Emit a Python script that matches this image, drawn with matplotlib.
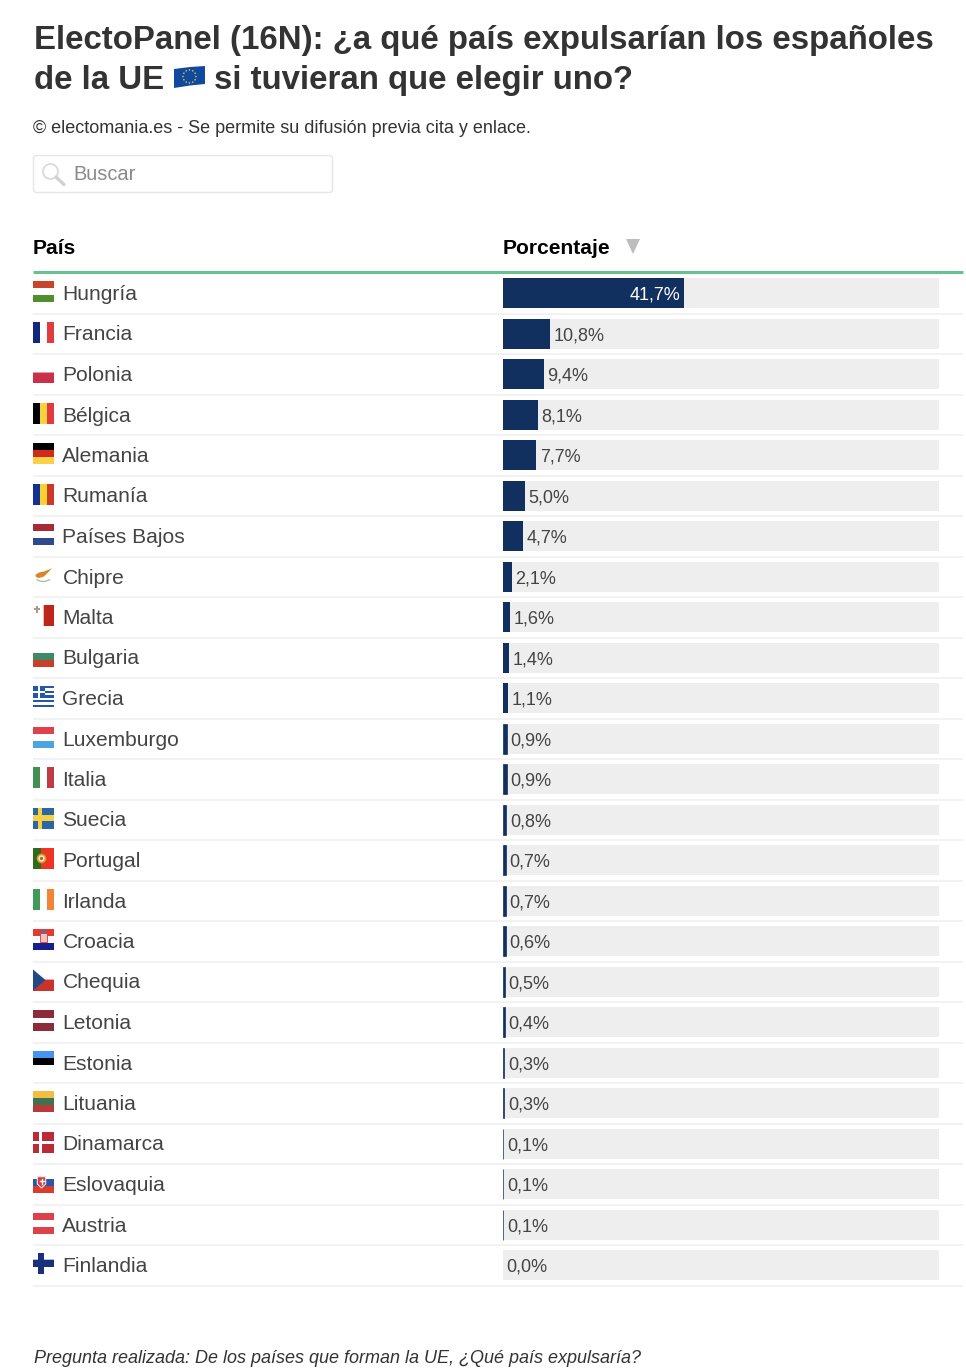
import matplotlib
matplotlib.use("Agg")
import matplotlib.pyplot as plt
from matplotlib.patches import Rectangle, FancyBboxPatch, Polygon, Circle
import numpy as np

W, H = 966, 1372
DPI = 100
plt.rcParams['font.family'] = ['Liberation Sans', 'DejaVu Sans']

paises = ["Hungría", "Francia", "Polonia", "Bélgica", "Alemania", "Rumanía", "Países Bajos",
          "Chipre", "Malta", "Bulgaria", "Grecia", "Luxemburgo", "Italia", "Suecia", "Portugal",
          "Irlanda", "Croacia", "Chequia", "Letonia", "Estonia", "Lituania", "Dinamarca",
          "Eslovaquia", "Austria", "Finlandia"]
valores = [41.7, 10.8, 9.4, 8.1, 7.7, 5.0, 4.7, 2.1, 1.6, 1.4, 1.1, 0.9, 0.9, 0.8, 0.7, 0.7,
           0.6, 0.5, 0.4, 0.3, 0.3, 0.1, 0.1, 0.1, 0.0]

titulo_1 = "ElectoPanel (16N): ¿a qué país expulsarían los españoles"
titulo_2a = "de la UE"
titulo_2b = "si tuvieran que elegir uno?"
subtitulo = "© electomania.es - Se permite su difusión previa cita y enlace."
buscar = "Buscar"
col_pais = "País"
col_pct = "Porcentaje"
pie = "Pregunta realizada: De los países que forman la UE, ¿Qué país expulsaría?"

NAVY, TRACK, INK = "#12305f", "#eeeeee", "#444444"
FIRST, STEP, BAR_H = 293.0, 40.5, 30.0
px = 0.72  # px -> pt at 100 dpi

# Flags: (x, y, w, h, colour) in unit flag coordinates, y downward; white left blank
def hs(*c):
    n = len(c)
    return [(0, i / n, 1, 1 / n, k) for i, k in enumerate(c) if k]
def vs(*c):
    n = len(c)
    return [(i / n, 0, 1 / n, 1, k) for i, k in enumerate(c) if k]

FLAGS = {
    "Hungría": hs("#c8452b", None, "#4f8f2e"),
    "Francia": vs("#10297c", None, "#e23a3f"),
    "Polonia": [(0, .5, 1, .5, "#cb3049"), (0, .47, 1, .05, "#e59aa6")],
    "Bélgica": vs("#000000", "#f8d33d", "#e23a3f"),
    "Alemania": hs("#000000", "#cf2b1b", "#f9d047"),
    "Rumanía": vs("#123098", "#f8d330", "#cc3a27"),
    "Países Bajos": hs("#a52b37", None, "#2d4a8c"),
    "Malta": [(.48, 0, .02, 1, "#eebbb5"), (.5, 0, .5, 1, "#bf261b"), (.03, .155, .3, .1, "#b09a85"), (.125, .06, .11, .3, "#b09a85")],
    "Bulgaria": hs(None, "#3f8a66", "#c8402a"),
    "Luxemburgo": hs("#e0424b", None, "#4ea4dd"),
    "Italia": vs("#418f53", None, "#c03a48"),
    "Suecia": [(0, 0, 1, 1, "#2a67a3"), (.22, 0, .22, 1, "#f7cf46"), (0, .38, 1, .24, "#f7cf46")],
    "Portugal": [(0, 0, .4, 1, "#2f6b1a"), (.4, 0, .6, 1, "#ee3524")],
    "Irlanda": vs("#429a58", None, "#f28436"),
    "Croacia": hs("#e8392e", None, "#1a1f8e"),
    "Letonia": [(0, 0, 1, .4, "#8c2c3a"), (0, .6, 1, .4, "#8c2c3a")],
    "Estonia": hs("#4793f2", "#000000", None),
    "Lituania": hs("#f3bd44", "#3f7250", "#b93a38"),
    "Dinamarca": [(0, 0, .29, .43, "#bb2a38"), (.43, 0, .57, .43, "#bb2a38"),
                  (0, .58, .29, .42, "#bb2a38"), (.43, .58, .57, .42, "#bb2a38")],
    "Eslovaquia": hs(None, "#2a56a6", "#dc3b32"),
    "Austria": hs("#dd424a", None, "#dd424a"),
    "Finlandia": [(0, .28, 1, .41, "#b4bfd8"), (.24, 0, .28, 1, "#19307a"), (0, .32, 1, .33, "#19307a")],
    "Grecia": [(0, i / 9, 1, 1 / 9, "#2458a8") for i in range(0, 9, 2)] +
              [(0, 0, .55, 5 / 9, "#2458a8"), (.22, 0, .11, 5 / 9, "#ffffff"), (0, 2 / 9, .55, 1 / 9, "#ffffff")],
}

fig = plt.figure(figsize=(W / DPI, H / DPI), dpi=DPI, facecolor="white")

# Page layer in pixel coordinates
pg = fig.add_axes([0, 0, 1, 1])
pg.set_xlim(0, W)
pg.set_ylim(H, 0)
pg.axis("off")

TITLE = dict(fontsize=33 * px, fontweight="bold", color="#333333", va="center_baseline")
pg.text(33.8, 37, titulo_1, **TITLE)
pg.text(33.8, 77.4, titulo_2a, **TITLE)
pg.text(214.5, 77.4, titulo_2b, **TITLE)
# EU flag emoji
pg.add_patch(Polygon([(174, 69), (190, 67), (205, 66), (205, 84), (190, 85.5), (174, 88)], fc="#0f4a9e", ec="none"))
for a in np.arange(0, 360, 30):
    pg.add_patch(Circle((189.5 + 6.5 * np.cos(np.radians(a)), 76.5 + 6.5 * np.sin(np.radians(a))), .8, fc="#e2c23a", ec="none"))

pg.text(33, 126.4, subtitulo, fontsize=18 * px, color="#333333", va="center_baseline")

pg.add_patch(FancyBboxPatch((33.5, 155.5), 299, 37, boxstyle="round,pad=0,rounding_size=3",
                            fc="white", ec="#e6e6e6", lw=1))
pg.add_patch(Circle((50.5, 171.5), 7.5, fc="none", ec="#dcdcdc", lw=1.4))
pg.plot([56, 64], [177, 184.5], color="#d2d2d2", lw=2.4, solid_capstyle="round")
pg.text(73.5, 173, buscar, fontsize=20 * px, color="#8a8a8a", va="center_baseline")

pg.text(33, 247, col_pais, fontsize=21 * px, fontweight="bold", color="#000000", va="center_baseline")
pg.text(503, 247, col_pct, fontsize=21 * px, fontweight="bold", color="#000000", va="center_baseline")
pg.add_patch(Polygon([(626, 239), (640, 239), (633, 254)], fc="#bdbdbd", ec="none"))
pg.plot([33, 963], [272, 272], color="#66c28f", lw=3 * px, solid_capstyle="butt")

for i, nombre in enumerate(paises):
    c = FIRST + i * STEP
    pg.text(62.4, c - .5, nombre, fontsize=21 * px, color=INK, va="center_baseline")
    pg.plot([33, 963], [c + 20.5, c + 20.5], color="#eeeeee", lw=1.5 * px, solid_capstyle="butt")
    fx, fy, fs = 33, c - 12, 21
    for (x, y, w, h, col) in FLAGS.get(nombre, []):
        pg.add_patch(Rectangle((fx + x * fs, fy + y * fs), w * fs, h * fs, fc=col, ec="none"))
    if nombre == "Chipre":
        pg.add_patch(Polygon([(fx + 2.3, fy + 10.5), (fx + 6, fy + 8), (fx + 11, fy + 7), (fx + 19, fy + 3.8),
                              (fx + 14, fy + 9), (fx + 11, fy + 12), (fx + 6, fy + 13.5), (fx + 3, fy + 12.5)],
                             fc="#d9852b", ec="none"))
        pg.plot([fx + 4, fx + 7, fx + 10, fx + 13, fx + 16.5], [fy + 15.2, fy + 16.6, fy + 17, fy + 16.6, fy + 15.2],
                color="#aab79a", lw=.9)
    elif nombre == "Portugal":
        pg.add_patch(Circle((fx + 8.5, fy + 10.5), 4, fc="#f5e9c8", ec="#c9a227", lw=1.2))
        pg.add_patch(Circle((fx + 8.5, fy + 10.5), 1.6, fc="#d84a3a", ec="none"))
    elif nombre == "Croacia":
        pg.add_patch(Rectangle((fx + 7, fy + 4), 7, 9, fc="#f3c5c0", ec="#d9352c", lw=.6))
        pg.add_patch(Rectangle((fx + 7, fy + 1.5), 7, 2.5, fc="#4a6fb5", ec="none"))
    elif nombre == "Chequia":
        pg.add_patch(Rectangle((fx, fy + 10.5), 21, 10.5, fc="#c8342b", ec="none"))
        pg.add_patch(Rectangle((fx, fy + 9.8), 21, .9, fc="#e8aaa6", ec="none"))
        pg.add_patch(Polygon([(fx, fy), (fx + 12.5, fy + 10.5), (fx, fy + 21)], fc="#1f4a85", ec="none"))
    elif nombre == "Eslovaquia":
        pg.add_patch(Polygon([(fx + 4.3, fy + 4.7), (fx + 12.7, fy + 4.7), (fx + 12.7, fy + 12),
                              (fx + 8.5, fy + 16), (fx + 4.3, fy + 12)], fc="#d8393a", ec="#e8e8f0", lw=.8))
        pg.plot([fx + 8.5, fx + 8.5], [fy + 6.5, fy + 12], color="white", lw=1)
        pg.plot([fx + 6.5, fx + 10.5], [fy + 8.5, fy + 8.5], color="white", lw=1)

pg.text(34, 1356.6, pie, fontsize=18 * px, fontstyle="italic", color="#333333", va="center_baseline")

# Bars: a percentage axis spanning the grey tracks
XMAX = 100.4
top, bottom = FIRST - BAR_H / 2, FIRST + 24 * STEP + BAR_H / 2
ax = fig.add_axes([503 / W, 1 - bottom / H, 436 / W, (bottom - top) / H])
ax.patch.set_alpha(0)
ax.set_xlim(0, XMAX)
ax.set_ylim(24 + (BAR_H / 2) / STEP, -(BAR_H / 2) / STEP)
ax.axis("off")
y = np.arange(len(paises))
ax.barh(y, [XMAX] * len(y), height=BAR_H / STEP, color=TRACK, lw=0)
ax.barh(y, valores, height=BAR_H / STEP, color=NAVY, edgecolor=NAVY,
        linewidth=[0.5 if 0 < v < 1 else 0 for v in valores])
for yi, v in zip(y, valores):
    etiqueta = f"{v:.1f}%".replace(".", ",")
    if v > 15:
        ax.annotate(etiqueta, (v, yi), xytext=(-4 * px, 0), textcoords="offset points", ha="right",
                    va="center_baseline", color="white", fontsize=18 * px)
    else:
        ax.annotate(etiqueta, (v, yi), xytext=(3.5 * px, -.3), textcoords="offset points", ha="left",
                    va="center_baseline", color="#444444", fontsize=18 * px)

fig.savefig("out.png", dpi=DPI, facecolor="white")
